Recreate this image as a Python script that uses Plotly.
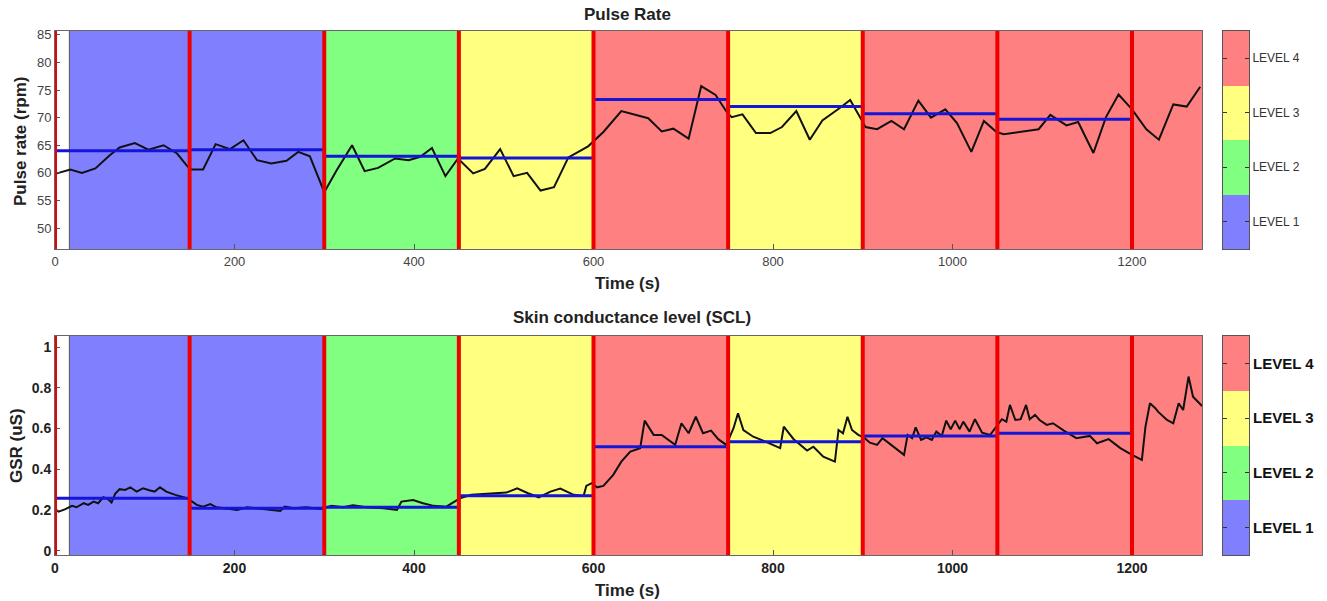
import plotly.graph_objects as go

# ---------------- data ----------------
t_end = 1278
img_start = 16
boundaries = [0, 150, 300, 450, 600, 750, 900, 1050, 1200]
levels = [1, 1, 2, 3, 4, 3, 4, 4, 4]
level_colors = ['#8080FF', '#80FF80', '#FFFF80', '#FF8080']
level_names = ['LEVEL 1', 'LEVEL 2', 'LEVEL 3', 'LEVEL 4']

pr_mean = [64.0, 64.2, 63.0, 62.7, 73.3, 72.0, 70.7, 69.7]
gsr_mean = [0.258, 0.209, 0.214, 0.270, 0.511, 0.536, 0.564, 0.577]

pr_t = [2, 17, 30, 45, 61, 72, 89, 104, 121, 136, 148, 152, 165, 179, 195, 210, 225, 241,
        258, 271, 284, 300, 314, 331, 345, 360, 379, 394, 407, 420, 435, 449, 466, 479,
        496, 511, 526, 541, 556, 572, 594, 611, 631, 661, 676, 689, 706, 720, 736, 749,
        754, 766, 781, 797, 810, 826, 841, 855, 874, 886, 900, 903, 916, 932, 946, 962,
        976, 992, 1005, 1021, 1035, 1049, 1057, 1079, 1096, 1109, 1127, 1140, 1157, 1171,
        1185, 1200, 1216, 1230, 1246, 1261, 1276]
pr_v = [59.9, 60.6, 60.0, 60.8, 63.2, 64.6, 65.4, 64.2, 65.0, 63.5, 61.1, 60.6, 60.6, 65.2,
        64.3, 65.9, 62.3, 61.7, 62.2, 63.8, 63.0, 56.5, 60.5, 65.0, 60.3, 60.9, 62.6, 62.3,
        62.9, 64.5, 59.4, 62.6, 59.9, 60.7, 64.3, 59.4, 60.0, 56.8, 57.4, 62.8, 64.8, 67.4,
        71.2, 69.9, 67.5, 68.0, 66.2, 75.7, 74.1, 70.9, 70.1, 70.6, 67.2, 67.2, 68.3, 71.2,
        66.0, 69.5, 71.7, 73.2, 69.2, 68.3, 67.9, 69.4, 67.9, 73.1, 70.0, 71.5, 69.0, 63.8,
        69.4, 67.4, 67.0, 67.5, 67.9, 70.5, 68.6, 69.2, 63.6, 70.1, 74.2, 71.5, 67.9, 66.0,
        72.4, 72.0, 75.6]

gsr_t = [2, 4, 11, 19, 24, 32, 37, 43, 48, 54, 59, 63, 67, 72, 78, 84, 91, 98, 106, 111,
         117, 124, 134, 145, 150, 158, 165, 173, 180, 191, 203, 214, 225, 236, 251, 256,
         266, 280, 297, 308, 321, 332, 347, 366, 381, 386, 399, 410, 422, 436, 451, 464,
         477, 490, 503, 515, 527, 539, 552, 563, 578, 589, 592, 598, 604, 611, 622, 631,
         641, 652, 657, 667, 676, 691, 698, 706, 714, 722, 731, 739, 748, 756, 761, 767,
         778, 789, 800, 808, 812, 823, 838, 845, 856, 869, 873, 878, 883, 888, 895, 901,
         908, 916, 922, 934, 946, 950, 955, 959, 965, 971, 977, 982, 988, 993, 998, 1003,
         1008, 1012, 1019, 1025, 1033, 1042, 1049, 1055, 1060, 1064, 1070, 1076, 1082,
         1086, 1092, 1097, 1105, 1112, 1124, 1138, 1153, 1161, 1174, 1187, 1200, 1211,
         1215, 1220, 1226, 1229, 1239, 1246, 1252, 1257, 1263, 1268, 1278]
gsr_v = [0.200, 0.193, 0.204, 0.221, 0.214, 0.234, 0.226, 0.242, 0.234, 0.263, 0.254, 0.237,
         0.280, 0.303, 0.299, 0.312, 0.291, 0.307, 0.296, 0.291, 0.312, 0.291, 0.275, 0.261,
         0.250, 0.226, 0.217, 0.230, 0.214, 0.207, 0.201, 0.214, 0.209, 0.206, 0.196, 0.217,
         0.209, 0.214, 0.206, 0.221, 0.214, 0.224, 0.214, 0.209, 0.201, 0.242, 0.250, 0.234,
         0.221, 0.217, 0.258, 0.275, 0.279, 0.283, 0.286, 0.307, 0.283, 0.263, 0.291, 0.306,
         0.275, 0.270, 0.319, 0.332, 0.312, 0.319, 0.373, 0.438, 0.487, 0.504, 0.639, 0.569,
         0.569, 0.520, 0.626, 0.577, 0.658, 0.577, 0.590, 0.548, 0.520, 0.602, 0.675, 0.593,
         0.560, 0.541, 0.520, 0.504, 0.609, 0.548, 0.492, 0.511, 0.462, 0.438, 0.593, 0.577,
         0.658, 0.593, 0.569, 0.557, 0.531, 0.520, 0.553, 0.511, 0.471, 0.569, 0.553, 0.606,
         0.544, 0.557, 0.544, 0.585, 0.564, 0.639, 0.597, 0.639, 0.597, 0.634, 0.585, 0.646,
         0.580, 0.569, 0.613, 0.646, 0.634, 0.716, 0.642, 0.646, 0.716, 0.646, 0.667, 0.642,
         0.618, 0.626, 0.590, 0.553, 0.564, 0.528, 0.548, 0.504, 0.471, 0.446, 0.609, 0.724,
         0.700, 0.683, 0.642, 0.626, 0.724, 0.691, 0.855, 0.756, 0.711]

pr_ticks = [50, 55, 60, 65, 70, 75, 80, 85]
gsr_ticks = [0, 0.2, 0.4, 0.6, 0.8, 1]
gsr_ticktext = ['0', '0.2', '0.4', '0.6', '0.8', '1']
x_ticks = [0, 200, 400, 600, 800, 1000, 1200]

# ---------------- figure ----------------
W, H = 1327, 601
FONT = 'Liberation Sans'
fig = go.Figure()

seg_ends = boundaries[1:] + [t_end]
step_x = boundaries
for xa, ya, tr_t, tr_v, means in [('x', 'y', pr_t, pr_v, pr_mean),
                                   ('x2', 'y2', gsr_t, gsr_v, gsr_mean)]:
    fig.add_trace(go.Scatter(x=tr_t, y=tr_v, mode='lines', xaxis=xa, yaxis=ya,
                             line=dict(color='#111111', width=2), hoverinfo='skip'))
    fig.add_trace(go.Scatter(x=step_x, y=means + [means[-1]], mode='lines', xaxis=xa, yaxis=ya,
                             line=dict(color='#1515D8', width=3, shape='hv'), hoverinfo='skip'))

shapes = []
for xa, ya in [('x', 'y'), ('x2', 'y2')]:
    for s, e, lv in zip(boundaries, seg_ends, levels):
        shapes.append(dict(type='rect', xref=xa, yref=ya + ' domain', x0=max(s, img_start), x1=e,
                           y0=0, y1=1, fillcolor=level_colors[lv - 1], line=dict(width=0),
                           layer='below'))
    shapes.append(dict(type='line', xref=xa, yref=ya + ' domain', x0=img_start, x1=img_start,
                       y0=0, y1=1, line=dict(color='#555555', width=1), layer='below'))
    for b in boundaries:
        shapes.append(dict(type='line', xref=xa, yref=ya + ' domain', x0=b, x1=b, y0=0, y1=1,
                           line=dict(color='#EE0000', width=4), layer='above'))

# colour-bar heatmaps
for xa, ya in [('x3', 'y3'), ('x4', 'y4')]:
    fig.add_trace(go.Heatmap(z=[[1], [2], [3], [4]], x=[0], y=level_names, xaxis=xa, yaxis=ya,
                             zmin=1, zmax=4, showscale=False, hoverinfo='skip',
                             colorscale=[[0, level_colors[0]], [1 / 3, level_colors[1]],
                                         [2 / 3, level_colors[2]], [1, level_colors[3]]]))

px_x = lambda p: p / W
px_y = lambda p: 1 - p / H

xdom = [px_x(55), px_x(1202)]
top_dom = [px_y(249), px_y(31)]
bot_dom = [px_y(555), px_y(336)]
cb_dom = [px_x(1223), px_x(1249)]

top_font = dict(family=FONT, size=13, color='#444444')
bot_font = dict(family=FONT, size=14, color='#222222', weight='bold')

common_ax = dict(showline=True, linecolor='#666666', linewidth=1, mirror=True, ticks='inside',
                 ticklen=5, tickcolor='#555555', showgrid=False, zeroline=False,
                 automargin=False)
cb_x = dict(domain=cb_dom, showticklabels=False, ticks='', showline=True,
            linecolor='#555555', mirror=True, showgrid=False, zeroline=False,
            automargin=False)
cb_y = dict(side='right', ticks='inside', ticklen=4, tickcolor='#333333', showline=True,
            linecolor='#555555', mirror='ticks', showgrid=False, range=[-0.5, 3.5],
            automargin=False)

fig.update_layout(
    width=W, height=H, margin=dict(l=0, r=0, t=0, b=0, autoexpand=False),
    paper_bgcolor='white', plot_bgcolor='white', showlegend=False, shapes=shapes,
    xaxis=dict(domain=xdom, range=[0, t_end], anchor='y', tickvals=x_ticks,
               tickfont=top_font, **common_ax),
    yaxis=dict(domain=top_dom, range=[46.2, 85.7], anchor='x', tickvals=pr_ticks,
               tickfont=top_font, **common_ax),
    xaxis2=dict(domain=xdom, range=[0, t_end], anchor='y2', tickvals=x_ticks,
                tickfont=bot_font, **common_ax),
    yaxis2=dict(domain=bot_dom, range=[-0.02, 1.054], anchor='x2', tickvals=gsr_ticks,
                ticktext=gsr_ticktext, tickfont=bot_font, **common_ax),
    xaxis3=dict(anchor='y3', **cb_x),
    yaxis3=dict(domain=top_dom, anchor='x3',
                tickfont=dict(family=FONT, size=12, color='#333333'), **cb_y),
    xaxis4=dict(anchor='y4', **cb_x),
    yaxis4=dict(domain=bot_dom, anchor='x4',
                tickfont=dict(family=FONT, size=15, color='#111111', weight='bold'), **cb_y),
)

title_font = dict(family=FONT, size=17, color='#222222', weight='bold')
ann = [
    dict(text='Pulse Rate', x=px_x(627), y=px_y(15)),
    dict(text='Time (s)', x=px_x(627), y=px_y(283)),
    dict(text='Skin conductance level (SCL)', x=px_x(632), y=px_y(317)),
    dict(text='Time (s)', x=px_x(627), y=px_y(590)),
    dict(text='Pulse rate (rpm)', x=px_x(20), y=px_y(142), textangle=-90),
    dict(text='GSR (uS)', x=px_x(16), y=px_y(446), textangle=-90),
]
for a in ann:
    fig.add_annotation(xref='paper', yref='paper', showarrow=False, font=title_font,
                       xanchor='center', yanchor='middle', **a)

fig.write_html('out.html', config={'displayModeBar': False},
               post_script="document.body.style.margin='0px';"
                           "document.body.style.overflow='hidden';")
